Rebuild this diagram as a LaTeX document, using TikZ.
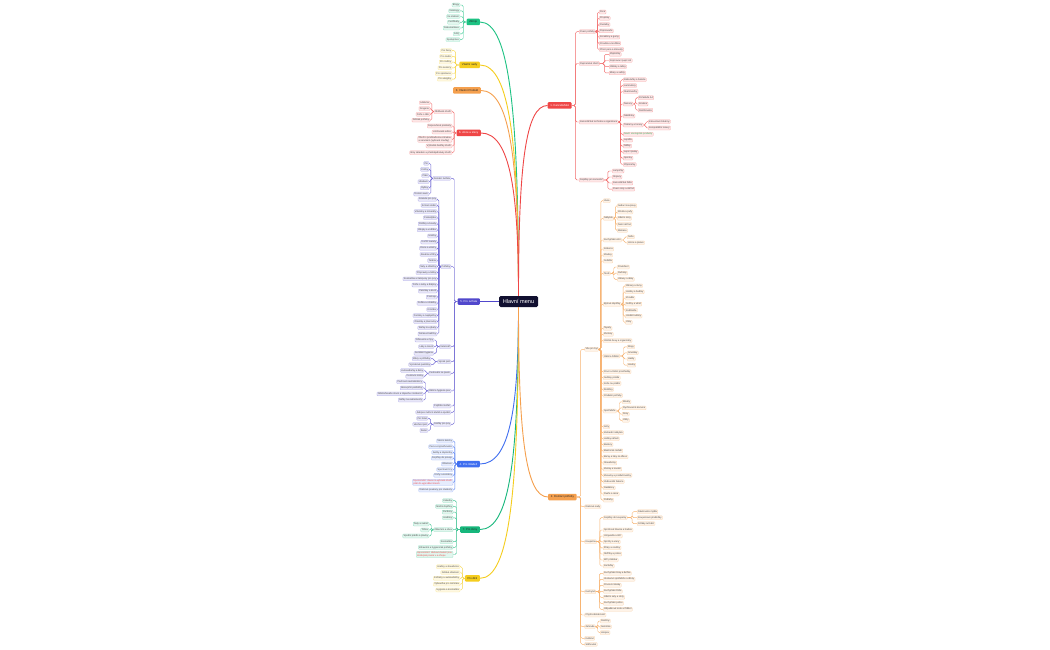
\documentclass[tikz,border=0pt]{standalone}
\usepackage{fontspec}
\setmainfont{Liberation Sans}
\usepackage{xcolor}
\usepackage{tikz}
\usetikzlibrary{arrows.meta, positioning, calc}

\definecolor{navy}{HTML}{111030}
\definecolor{cGreen}{HTML}{1DC283}
\definecolor{cTeal}{HTML}{17B77C}
\definecolor{cYellow}{HTML}{F5CD1E}
\definecolor{cOrange}{HTML}{F5A04E}
\definecolor{cRed}{HTML}{EF4646}
\definecolor{cIndigo}{HTML}{5148CC}
\definecolor{cBlue}{HTML}{3F6EF0}
\definecolor{cGreenTxt}{HTML}{3DAA5A}
\definecolor{leaftext}{HTML}{4A4A4A}

\tikzset{
	hub/.style={fill=#1, rounded corners=1pt, inner xsep=2.6pt, inner ysep=0pt, minimum height=6.5pt, font=\fontsize{2.8}{3.2}\selectfont},
	leaf/.style={draw=#1!45, fill=#1!13, line width=0.25pt, rounded corners=0.8pt, inner xsep=0.9pt, inner ysep=0.5pt, minimum height=3.8pt, text=leaftext, align=left, font=\fontsize{2.4}{2.8}\selectfont},
	link/.style={draw=#1!80, line width=0.45pt, rounded corners=1.5pt},
	main/.style={draw=#1, line width=0.9pt},
}

% elbow links: colour, parent, child
\newcommand\linkL[3]{\draw[link=#1] let \p1=(#2.west), \p2=(#3.east), \p3=($(\p1)!.5!(\p2)$) in (\p1) -- (\x3,\y1) |- (\p2);}
\newcommand\linkR[3]{\draw[link=#1] let \p1=(#2.east), \p2=(#3.west), \p3=($(\p1)!.5!(\p2)$) in (\p1) -- (\x3,\y1) |- (\p2);}

% leaves: colour, parent, edge x, list of y/text
\newcommand\leftleaves[4]{%
	\foreach \pos/\txt [count=\i] in {#4}{%
		\node[leaf=#1, anchor=east] (#2-\i) at (#3,\pos) {\txt};
		\linkL{#1}{#2}{#2-\i}
	}}
\newcommand\rightleaves[4]{%
	\foreach \pos/\txt [count=\i] in {#4}{%
		\node[leaf=#1, anchor=west] (#2-\i) at (#3,\pos) {\txt};
		\linkR{#1}{#2}{#2-\i}
	}}

\begin{document}
\begin{tikzpicture}[x=1pt, y=-1pt]
	\useasboundingbox (0,0) rectangle (1050,650);
	\fill[white] (0,0) rectangle (1050,650);
	
	% Centre
	\node[fill=navy, text=white, rounded corners=1.5pt, minimum width=39pt, minimum height=11pt, font=\fontsize{5.6}{6}\selectfont] (hlavni) at (518.5,301.5) {Hlavní menu};
	
	% Zdroje
	\node[hub=cGreen, text=black!85, anchor=east] (zdroje) at (480,22) {Zdroje};
	\leftleaves{cGreen}{zdroje}{460}{5/Blogy, 10.8/Katalogy, 16.5/Ke stažení, 22.3/Certifikáty, 28/Dokumentace, 33.8/FAQ, 39.6/Spolupráce}
	
	% Vlastní sady
	\node[hub=cYellow, text=black!85, anchor=east] (sady) at (480,65) {Vlastní sady};
	\leftleaves{cYellow}{sady}{452}{50.7/Pro ženy, 56.4/Pro muže, 62.1/Pro rodiny, 67.8/Pro seniory, 73.5/Pro sportovce, 79.2/Pro alergiky}
	
	% 3.
	\node[hub=cOrange, text=black!85, anchor=east] (produkt) at (481,90.5) {3. Vlastní Produkt};
	
	% 6.
	\node[hub=cRed, text=white, anchor=east] (akce) at (481,133) {6. Akce a slevy};
	\leftleaves{cRed}{akce}{452}{111.7/Oblíbené zboží, 126/Doporučené produkty, 132/Limitované edice, 139.3/{Zboží s prodlouženou zárukou\\a servisem (vybrané značky)}, 146/Výhodné balíčky zboží, 152.7/Brzy skladem a předobjednávky zboží}
	\leftleaves{cRed}{akce-1}{430}{102.8/Lékárna, 108.6/Drogerie, 114.4/Péče o tělo, 120.2/Dětské potřeby}
	
	% 5.
	\node[hub=cIndigo, text=white, anchor=east] (zvirata) at (480,301.5) {5. Pro zvířata};
	\leftleaves{cIndigo}{zvirata}{451}{178.3/Domácí zvířata, 266.6/Potřeby, 346.7/Veterinář, 361.7/Výcvik psů, 373.3/Cestování se psem, 390.9/Úklid a hygiena psa, 406/Pojištění zvířat, 412.3/Adopce zvířat z útulků a spolků, 424.3/Služby pro psy}
	\leftleaves{cIndigo}{zvirata-1}{429}{163.3/Psi, 169.4/Kočky, 175.6/Ptáci, 181.7/Hlodavci, 187.9/Rybky, 194/Drobní savci}
	\leftleaves{cIndigo}{zvirata-2}{437}{199.3/Granule pro psy, 205.4/Krmné směsi, 211.5/Vitamíny a minerály, 217.7/Podestýlka, 223.8/Pelíšky a boudy, 229.9/Obojky a vodítka, 236/Hračky, 242.1/Kočičí toalety, 248.3/Klece a voliéry, 254.4/Akvária a filtry, 260.5/Terária, 266.6/Šaty a oblečky, 272.7/Přepravky a tašky, 278.9/Kosmetika a šampony pro psy, 285/Péče o zuby a drápky, 291.1/Pamlsky a kosti, 297.2/Postroje, 303.3/Dvířka a ohrádky, 309.5/Krmítka, 315.6/Fontány a napáječky, 321.7/Známky a jmenovky, 327.8/Sáčky na výkaly, 334/Dárkové balíčky}
	\leftleaves{cIndigo}{zvirata-3}{434}{340/Očkování a čipy, 346.7/Léky a masti, 353.3/Dentální hygiena}
	\leftleaves{cIndigo}{zvirata-4}{431}{358.7/Klikry a píšťalky, 364.7/Výcvikové pamlsky}
	\leftleaves{cIndigo}{zvirata-5}{424}{370.5/Autosedačky a deky, 376.3/Cestovní misky}
	\leftleaves{cIndigo}{zvirata-6}{423}{381.8/Pachové neutralizátory, 387.9/Absorpční podložky, 393.9/Odstraňovače skvrn a zápachu z koberců, 400/Sáčky na exkrementy}
	\leftleaves{cIndigo}{zvirata-9}{428}{418.3/Psí hotel, 424.3/Venčení psů, 430.5/Salon}
	
	% 4.
	\node[hub=cBlue, text=white, anchor=east] (mladez) at (480,464) {4. Pro mládež};
	\leftleaves{cBlue}{mladez}{453}{441/Školní batohy, 446.7/Pera a zvýrazňovače, 452.4/Sešity a zápisníky, 458.2/Doplňky do pokoje, 464/Oblečení, 469.7/Sportovní hry, 475.3/Knihy a komiksy, 490/Dárkové poukazy pro studenty}
	\node[leaf=cBlue, text=cRed, anchor=east] (mladez-pozn) at (453,482.3) {Upozornění: sleva na vybrané zboží\\platí do vyprodání zásob};
	\linkL{cBlue}{mladez}{mladez-pozn}
	
	% 7.
	\node[hub=cTeal, text=black!85, anchor=east] (zeny) at (480,529.5) {7. Pro ženy};
	\leftleaves{cTeal}{zeny}{453}{500.7/Kabelky, 506.4/Módní doplňky, 512.1/Parfémy, 517.8/Hodinky, 529.7/Oblečení a obuv, 541.7/Kosmetika, 547.4/Zdravotní a hygienické potřeby}
	\node[leaf=cTeal, text=cRed, anchor=east] (zeny-pozn) at (453,554.5) {Upozornění: dárková balení jsou\\dostupná pouze v e-shopu};
	\linkL{cTeal}{zeny}{zeny-pozn}
	\leftleaves{cTeal}{zeny-5}{429}{524/Šaty a sukně, 530/Trička, 536/Spodní prádlo a plavky}
	
	% Pro děti
	\node[hub=cYellow, text=black!85, anchor=east] (deti) at (480,578.3) {Pro děti};
	\leftleaves{cYellow}{deti}{460}{566.7/Hračky a stavebnice, 572.5/Dětské oblečení, 578.3/Kočárky a autosedačky, 584.2/Výbavička pro miminka, 590/Hygiena a kosmetika}
	
	% 1.
	\node[hub=cRed, text=white, anchor=west] (kancel) at (547.5,105.5) {1. Kancelářské};
	\rightleaves{cRed}{kancel}{579}{31.7/Psací potřeby, 63.5/Papírenské zboží, 122/Kancelářská technika a organizace, 180/Doplňky pro kancelář}
	\rightleaves{cRed}{kancel-1}{599}{12/Pera, 18.3/Propisky, 24.6/Pastelky, 30.9/Popisovače, 37.2/Korektory a gumy, 43.4/Pravítka a kružítka, 49.5/Plnicí pera a inkousty}
	\rightleaves{cRed}{kancel-2}{609}{54.3/Zápisníky, 60.5/Kopírovací papír A4, 66.7/Obálky a tašky, 72.9/Bloky a sešity}
	\rightleaves{cRed}{kancel-3}{623}{79.7/Kalkulačky a baterie, 85.6/Laminátory, 91.5/Skartovačky, 104/Šanony, 116/Nástěnky, 125/Tiskárny a tonery, 134.3/\textcolor{cGreenTxt}{Nově: ekologické produkty}, 140.2/Lepidla, 146.1/Nůžky, 152.1/Lepicí pásky, 158.2/Sponky, 164.5/Připínáčky}
	\rightleaves{cRed}{kancel-3-4}{638}{97.7/Pořadače A4, 104/Krabice, 110.2/Rozlišovače}
	\rightleaves{cRed}{kancel-3-6}{648}{121.7/Inkoustové tiskárny, 128/Kompatibilní tonery}
	\rightleaves{cRed}{kancel-4}{612}{171/Lampičky, 177/Stojany, 183/Kancelářské židle, 189.2/Psací stoly a skříně}
	
	% 2.
	\node[hub=cOrange, text=black!85, anchor=west] (domaci) at (548,497) {2. Domácí potřeby};
	\rightleaves{cOrange}{domaci}{584.5}{349.3/Vše pro byt, 506.7/Dárkové sady, 541.7/Koupelna, 591.7/Kuchyně, 615/Chytrá domácnost, 626.7/Zahrada, 638.3/Kutilství, 644.3/Stěhování}
	\rightleaves{cOrange}{domaci-1}{603}{200.7/Vana, 218.3/Nábytek, 240/Kuchyňské věci, 249/Koberce, 255/Závěsy, 261/Svítidla, 273.3/Textil, 304.3/Bytové doplňky, 328.3/Tapety, 334.3/Záclony, 340.7/Úložné boxy a organizéry, 356/Úklid a čištění, 371.7/Prací a čisticí prostředky, 377.7/Sušáky prádla, 383.5/Koše na prádlo, 389.4/Žehličky, 395.5/Prádelní potřeby, 411/Spotřebiče, 426.7/Grily, 432.7/Zahradní nábytek, 438.7/Hobby nářadí, 444.7/Bazény, 450.8/Elektrické nářadí, 456.9/Barvy a laky na dřevo, 463/Stavebniny, 469.2/Zámky a kování, 475.4/Zásuvky a prodlužovačky, 481.6/Vodovodní baterie, 487.8/Radiátory, 494/Dveře a okna, 500.1/Podlahy}
	\rightleaves{cOrange}{domaci-1-2}{617}{205.7/Sedací soupravy, 212/Křesla a pufy, 218.3/Jídelní stoly, 224.4/Šatní skříně, 230.4/Matrace}
	\rightleaves{cOrange}{domaci-1-3}{627}{236.9/Nože, 242.8/Hrnce a pánve}
	\rightleaves{cOrange}{domaci-1-7}{617}{267/Povlečení, 273.2/Ručníky, 279.3/Ubrusy a deky}
	\rightleaves{cOrange}{domaci-1-8}{625}{285.8/Obrazy a rámy, 291.9/Hodiny a budíky, 298/Zrcadla, 304.1/Svíčky a vůně, 310.2/Květináče, 316.2/Umělé květiny, 322.3/Vázy}
	\rightleaves{cOrange}{domaci-1-12}{627}{346.8/Mopy, 352.9/Smetáky, 359/Hadry, 365.1/Houby}
	\rightleaves{cOrange}{domaci-1-18}{622}{401.8/Mixéry, 407.9/Rychlovarné konvice, 414.1/Fény, 420.3/Váhy}
	\rightleaves{cOrange}{domaci-3}{603}{517.7/Doplňky do koupelny, 530/Sprchové hlavice a hadice, 536/Umyvadla a WC, 541.9/Sprchy a vany, 547.9/Žínky a osušky, 554/Skříňky a police, 560/WC prkénka, 566/Kartáčky}
	\rightleaves{cOrange}{domaci-3-1}{637}{511.7/Dávkovače mýdla, 517.7/Koupelnové předložky, 523.7/Držáky ručníků}
	\rightleaves{cOrange}{domaci-4}{603}{573.3/Kuchyňské linky a dvířka, 579.3/Vestavné spotřebiče a dřezy, 585.3/Pracovní desky, 591.3/Kuchyňské židle, 597.3/Jídelní sety a stoly, 603.3/Kuchyňské police, 609.3/Odpadkové koše a třídění}
	\rightleaves{cOrange}{domaci-6}{600}{621/Rostliny, 626.8/Semínka, 632.6/Hnojiva}
	
	% Main connectors
	\draw[main=cGreen] (zdroje.east) .. controls +(30,0) and +(0,-180) .. (hlavni.north);
	\draw[main=cYellow] (sady.east) .. controls +(30,0) and +(0,-150) .. (hlavni.north);
	\draw[main=cOrange] (produkt.east) .. controls +(30,0) and +(0,-130) .. (hlavni.north);
	\draw[main=cRed] (akce.east) .. controls +(30,0) and +(0,-100) .. (hlavni.north);
	\draw[main=cIndigo] (zvirata.east) -- (hlavni.west);
	\draw[main=cBlue] (mladez.east) .. controls +(30,0) and +(0,100) .. (hlavni.south);
	\draw[main=cTeal] (zeny.east) .. controls +(30,0) and +(0,150) .. (hlavni.south);
	\draw[main=cYellow] (deti.east) .. controls +(30,0) and +(0,180) .. (hlavni.south);
	\draw[main=cRed] (hlavni.north) .. controls +(0,-130) and +(-22,0) .. (kancel.west);
	\draw[main=cOrange] (hlavni.south) .. controls +(0,130) and +(-22,0) .. (domaci.west);
\end{tikzpicture}
\end{document}
